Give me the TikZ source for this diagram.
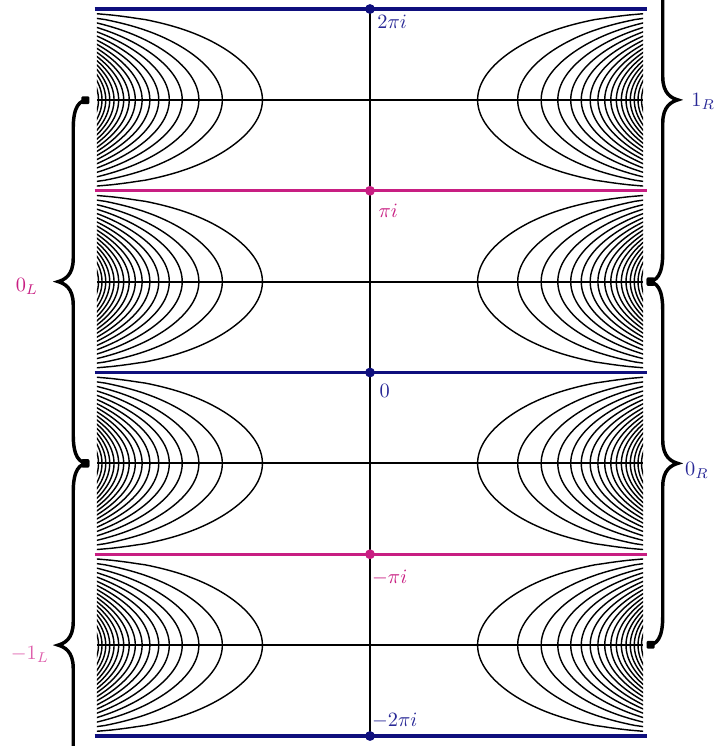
\documentclass[tikz,border=0pt]{standalone}
\definecolor{nblue}{RGB}{15,15,125}
\definecolor{nmag}{RGB}{200,30,130}
\definecolor{lblue}{RGB}{40,40,150}
\definecolor{pmag}{RGB}{222,95,172}
\tikzset{
  bracepic/.pic={
    \def\bA{0.27}\def\bB{0.53}\def\bL{6.2832}\def\bM{3.1416}
    \draw[line width=1.7pt,line cap=butt]
      (0,\bL) .. controls (-0.17,\bL) and (-\bA,\bL-0.12) .. (-\bA,\bL-0.5)
      -- (-\bA,\bM+0.4)
      .. controls (-\bA,\bM+0.1) and (-\bB+0.1,\bM+0.03) .. (-\bB,\bM)
      .. controls (-\bB+0.1,\bM-0.03) and (-\bA,\bM-0.1) .. (-\bA,\bM-0.4)
      -- (-\bA,0.5)
      .. controls (-\bA,0.12) and (-0.17,0) .. (0,0);
    \fill[rounded corners=0.6pt] (-0.13,\bL-0.075) rectangle (0.01,\bL+0.06);
    \fill[rounded corners=0.6pt] (-0.13,0.075) rectangle (0.01,-0.06);
  }
}
\begin{document}
\begin{tikzpicture}[
  curve/.style={line width=0.7pt,black},
  gridl/.style={line width=0.9pt,black},
  bline/.style={line width=1.5pt,nblue},
  mline/.style={line width=1.5pt,nmag},
  bdot/.style={circle,fill=nblue,inner sep=0pt,minimum size=0.17cm},
  mdot/.style={circle,fill=nmag,inner sep=0pt,minimum size=0.17cm},
  lab/.style={anchor=west,inner sep=0pt}
]
\useasboundingbox (-6.396,-6.456) rectangle (5.998,6.439);
\clip (-6.396,-6.456) rectangle (5.998,6.439);

% level curves
\begin{scope}
\clip (-4.72,-6.3) rectangle (4.72,6.3);
\foreach \k in {-2,...,1}{
  \foreach \n in {1,...,17}{
    \draw[curve] plot[domain=0.3:179.7, samples=160, variable=\t]
      ({-1.86-ln(\n)+ln(sin(\t)*(0.7+0.3*sin(\t)*sin(\t)))}, {\k*pi+\t*pi/180});
    \draw[curve] plot[domain=0.3:179.7, samples=160, variable=\t]
      ({1.86+ln(\n)-ln(sin(\t)*(0.7+0.3*sin(\t)*sin(\t)))}, {\k*pi+\t*pi/180});
  }
}
\end{scope}

% black horizontal lines
\foreach \y in {-1.5,-0.5,0.5,1.5}{
  \draw[gridl] (-4.72,{\y*pi}) -- (4.72,{\y*pi});
}
% vertical axis
\coordinate (top) at (0,{2*pi});
\coordinate (bot) at (0,{-2*pi});
\draw[gridl] (bot) -- (top);

% coloured lines
\draw[bline] (-4.76,{2*pi}) -- (4.78,{2*pi});
\draw[mline] (-4.76,{pi}) -- (4.78,{pi});
\draw[bline] (-4.76,0) -- (4.78,0);
\draw[mline] (-4.76,{-pi}) -- (4.78,{-pi});
\draw[bline] (-4.76,{-2*pi}) -- (4.78,{-2*pi});

% dots
\node[bdot] (d2) at (0,{2*pi}) {};
\node[mdot] (d1) at (0,{pi}) {};
\node[bdot] (d0) at (0,0) {};
\node[mdot] (dm1) at (0,{-pi}) {};
\node[bdot] (dm2) at (0,{-2*pi}) {};

% point labels
\node[lab,text=lblue] (l2) at (0.12,6.06) {$2\pi i$};
\node[lab,text=nmag] (l1) at (0.14,2.79) {$\pi i$};
\node[lab,text=lblue] (l0) at (0.16,-0.32) {$0$};
\node[lab,text=nmag] (lm1) at (0.03,-3.54) {$-\pi i$};
\node[lab,text=lblue] (lm2) at (0.03,-6.01) {$-2\pi i$};

% braces
\pic at (-4.86,{-0.5*pi}) {bracepic};
\pic at (-4.86,{-2.5*pi}) {bracepic};
\pic[xscale=-1] at (4.79,{0.5*pi}) {bracepic};
\pic[xscale=-1] at (4.79,{-1.5*pi}) {bracepic};

% brace labels
\node[text=nmag] (bl0) at (-5.93,1.48) {$0_L$};
\node[text=pmag] (blm1) at (-5.88,-4.88) {$-1_L$};
\node[text=lblue] (br1) at (5.76,4.69) {$1_R$};
\node[text=lblue] (br0) at (5.65,-1.69) {$0_R$};
\end{tikzpicture}
\end{document}
